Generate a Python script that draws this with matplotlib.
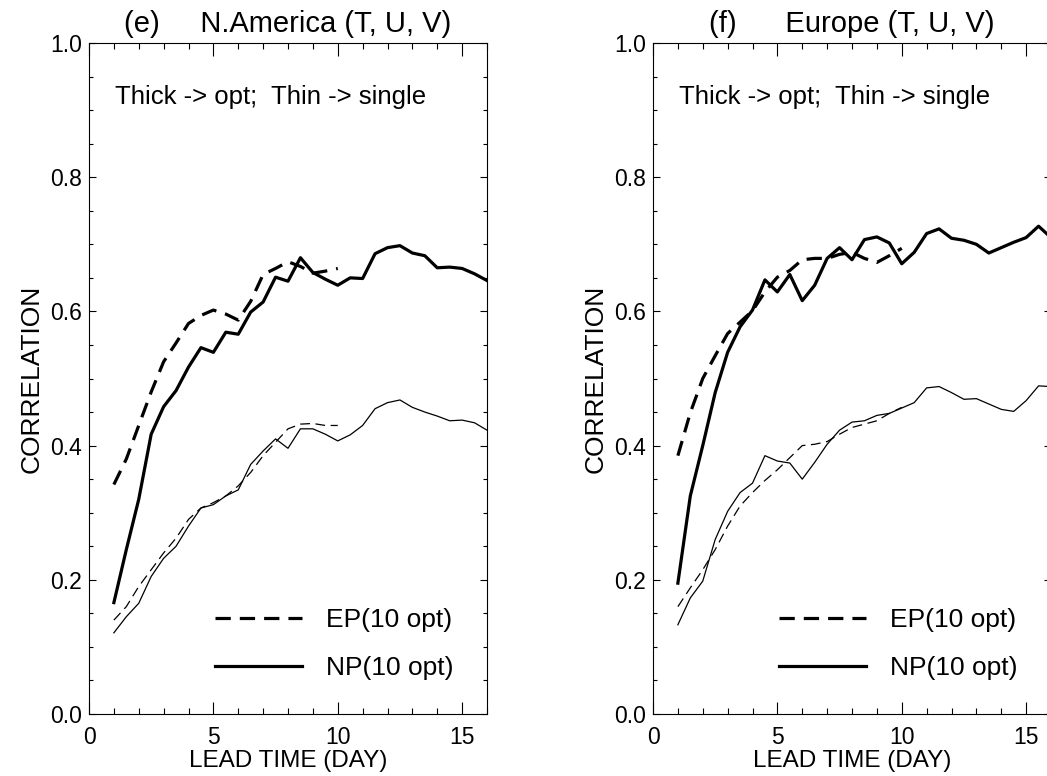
import numpy as np
import matplotlib
matplotlib.use("Agg")
import matplotlib.pyplot as plt
from matplotlib.ticker import MultipleLocator, FormatStrFormatter

plt.rcParams['font.family'] = ['Liberation Sans', 'DejaVu Sans']
plt.rcParams['lines.scale_dashes'] = False

# lead time grid (days)
days = np.arange(1, 16.01, 0.5)
days_ep = np.arange(1, 10.01, 0.5)

# (e) N.America
na_np_opt = [0.166, 0.245, 0.320, 0.417, 0.458, 0.482, 0.517, 0.546, 0.539, 0.569, 0.566,
             0.599, 0.614, 0.651, 0.645, 0.680, 0.658, 0.648, 0.639, 0.650, 0.649, 0.686,
             0.695, 0.698, 0.687, 0.683, 0.665, 0.666, 0.664, 0.656, 0.646]
na_ep_opt = [0.342, 0.380, 0.430, 0.480, 0.525, 0.553, 0.582, 0.594, 0.602, 0.596, 0.587,
             0.615, 0.655, 0.664, 0.674, 0.667, 0.657, 0.660, 0.664]
na_np_single = [0.121, 0.145, 0.165, 0.205, 0.232, 0.250, 0.280, 0.307, 0.312, 0.325, 0.334,
                0.372, 0.392, 0.410, 0.396, 0.425, 0.425, 0.417, 0.407, 0.416, 0.430, 0.455,
                0.464, 0.468, 0.457, 0.450, 0.444, 0.437, 0.438, 0.434, 0.423]
na_ep_single = [0.140, 0.160, 0.190, 0.215, 0.240, 0.262, 0.290, 0.307, 0.315, 0.325, 0.340,
                0.360, 0.385, 0.405, 0.425, 0.432, 0.433, 0.430, 0.430]

# (f) Europe
eu_np_opt = [0.195, 0.325, 0.400, 0.479, 0.539, 0.577, 0.602, 0.647, 0.629, 0.655, 0.616,
             0.639, 0.679, 0.695, 0.677, 0.707, 0.711, 0.702, 0.671, 0.688, 0.716, 0.723,
             0.709, 0.706, 0.700, 0.687, 0.695, 0.703, 0.710, 0.727, 0.710]
eu_ep_opt = [0.385, 0.449, 0.500, 0.534, 0.567, 0.584, 0.601, 0.629, 0.651, 0.661, 0.677,
             0.679, 0.679, 0.685, 0.688, 0.679, 0.673, 0.683, 0.694]
eu_np_single = [0.133, 0.173, 0.198, 0.260, 0.302, 0.330, 0.344, 0.385, 0.377, 0.374, 0.350,
                0.375, 0.402, 0.423, 0.435, 0.437, 0.445, 0.448, 0.456, 0.464, 0.486, 0.488,
                0.479, 0.469, 0.470, 0.462, 0.454, 0.451, 0.467, 0.489, 0.488]
eu_ep_single = [0.160, 0.188, 0.215, 0.245, 0.280, 0.310, 0.330, 0.348, 0.364, 0.382, 0.400,
                0.402, 0.406, 0.417, 0.427, 0.432, 0.437, 0.448, 0.457]

panels = [
    ("(e)     N.America (T, U, V)", na_np_opt, na_ep_opt, na_np_single, na_ep_single),
    ("(f)      Europe (T, U, V)", eu_np_opt, eu_ep_opt, eu_np_single, eu_ep_single),
]

fig = plt.figure(figsize=(10.47, 7.76), dpi=100)
lefts = [89 / 1047, 653 / 1047]
thick, thin = 2.3, 0.9

for left, (title, np_opt, ep_opt, np_single, ep_single) in zip(lefts, panels):
    ax = fig.add_axes([left, 62 / 776, 398 / 1047, 671 / 776])

    ax.plot(days_ep, ep_opt, color='black', lw=thick, dashes=(11, 6.5), label='EP(10 opt)')
    ax.plot(days, np_opt, color='black', lw=thick, label='NP(10 opt)')
    ax.plot(days_ep, ep_single, color='black', lw=thin, dashes=(7, 4))
    ax.plot(days, np_single, color='black', lw=thin)

    ax.set_xlim(0, 16)
    ax.set_ylim(0, 1)
    ax.xaxis.set_major_locator(MultipleLocator(5))
    ax.xaxis.set_minor_locator(MultipleLocator(1))
    ax.yaxis.set_major_locator(MultipleLocator(0.2))
    ax.yaxis.set_minor_locator(MultipleLocator(0.05))
    ax.yaxis.set_major_formatter(FormatStrFormatter('%.1f'))
    ax.tick_params(which='both', direction='in', top=True, right=True, width=0.8,
                   labelsize=16.5)
    ax.tick_params(axis='x', which='major', length=9, pad=8.5)
    ax.tick_params(axis='x', which='minor', length=4.5)
    ax.tick_params(axis='y', which='major', length=5, pad=5)
    ax.tick_params(axis='y', which='minor', length=3)
    for sp in ax.spines.values():
        sp.set_linewidth(0.8)

    ax.set_title(title, fontsize=21, pad=8)
    ax.set_xlabel('LEAD TIME (DAY)', fontsize=17.5, labelpad=0.5)
    ax.set_ylabel('CORRELATION', fontsize=19, labelpad=5)
    ax.text(0.066, 0.92, 'Thick -> opt;  Thin -> single', transform=ax.transAxes,
            fontsize=18.5, va='center', ha='left')

    ax.legend(loc='center left', bbox_to_anchor=(0.317, 0.104), frameon=False,
              fontsize=19, handlelength=3.3, handletextpad=0.9, labelspacing=0.9,
              borderpad=0, borderaxespad=0)

fig.savefig('out.png', dpi=100)
